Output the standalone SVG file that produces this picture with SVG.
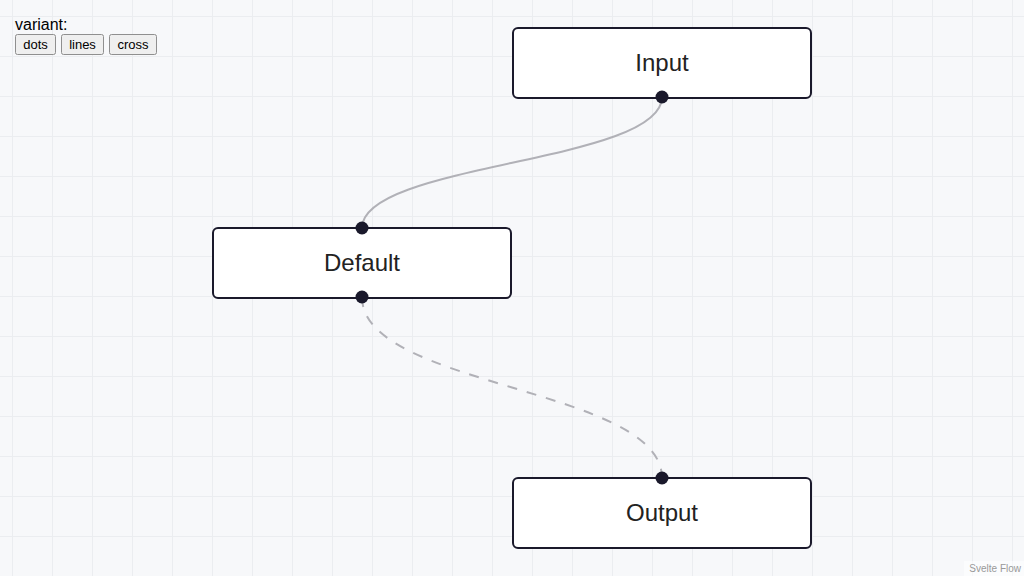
<svg xmlns="http://www.w3.org/2000/svg" width="1024" height="576" viewBox="0 0 1024 576">
  <style>
    .node rect { fill: #ffffff; stroke: #1a192b; stroke-width: 2; }
    .node text { font-family: "Liberation Sans", Arial, sans-serif; font-size: 24px; fill: #222222; text-anchor: middle; }
    .handle { fill: #1a192b; stroke: #ffffff; stroke-width: 0; }
    .edge { fill: none; stroke: #b1b1b7; stroke-width: 2; }
    .dashed { stroke-dasharray: 10 10; }
    .btn rect { fill: #efefef; stroke: #8f8f8f; stroke-width: 1; }
    .btn text { font-family: "Liberation Sans", Arial, sans-serif; font-size: 13px; fill: #000000; text-anchor: middle; }
  </style>
  <defs>
    <pattern id="grid" x="12" y="16" width="40" height="40" patternUnits="userSpaceOnUse">
      <path d="M0 0 H40 M0 0 V40" stroke="#ebedf0" stroke-width="2" fill="none"/>
    </pattern>
  </defs>
  <rect width="1024" height="576" fill="#f7f8fa"/>
  <rect width="1024" height="576" fill="url(#grid)"/>

  <g id="connectors">
    <path class="edge" d="M662 97 C662 163 362 163 362 228"/>
    <path class="edge dashed" d="M362 297 C362 387.5 662 387.5 662 478"/>
  </g>

  <g id="node-input" class="node">
    <rect x="513" y="28" width="298" height="70" rx="5"/>
    <text x="662" y="71">Input</text>
    <circle class="handle" cx="662" cy="97" r="6.5"/>
  </g>

  <g id="node-default" class="node">
    <rect x="213" y="228" width="298" height="70" rx="5"/>
    <text x="362" y="271">Default</text>
    <circle class="handle" cx="362" cy="228" r="6.5"/>
    <circle class="handle" cx="362" cy="297" r="6.5"/>
  </g>

  <g id="node-output" class="node">
    <rect x="513" y="478" width="298" height="70" rx="5"/>
    <text x="662" y="521">Output</text>
    <circle class="handle" cx="662" cy="478" r="6.5"/>
  </g>

  <g id="controls">
    <text x="15" y="30" font-family="'Liberation Sans', Arial, sans-serif" font-size="16" fill="#000">variant:</text>
    <g class="btn">
      <rect x="15.5" y="34.5" width="40" height="20" rx="2"/>
      <text x="35.5" y="49">dots</text>
    </g>
    <g class="btn">
      <rect x="61.5" y="34.5" width="42" height="20" rx="2"/>
      <text x="82.5" y="49">lines</text>
    </g>
    <g class="btn">
      <rect x="109.5" y="34.5" width="47" height="20" rx="2"/>
      <text x="133" y="49">cross</text>
    </g>
  </g>

  <g id="attribution">
    <rect x="964" y="561" width="60" height="15" fill="#ffffff" fill-opacity="0.5"/>
    <text x="1021" y="572" text-anchor="end" font-family="'Liberation Sans', Arial, sans-serif" font-size="10" fill="#999999">Svelte Flow</text>
  </g>
</svg>
